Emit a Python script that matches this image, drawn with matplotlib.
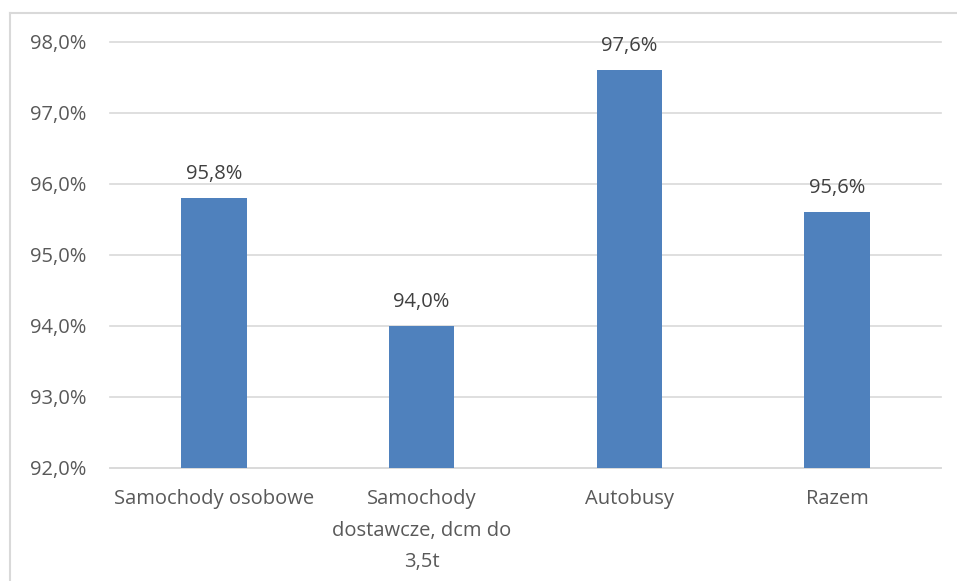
import matplotlib
matplotlib.use("Agg")
import matplotlib.pyplot as plt
from matplotlib.lines import Line2D

categories = ["Samochody osobowe", "Samochody\ndostawcze, dcm do\n3,5t", "Autobusy", "Razem"]
values = [95.8, 94.0, 97.6, 95.6]
yticks = [92, 93, 94, 95, 96, 97, 98]

plt.rcParams['font.family'] = ['Open Sans', 'DejaVu Sans']
txt = '#595959'
fs = 14.5

fig = plt.figure(figsize=(9.57, 5.81), dpi=100)
ax = fig.add_axes([110/957, 1-468/581, (941-110)/957, (468-42)/581])

x = range(len(categories))
bars = ax.bar(x, values, width=0.315, color='#4F81BD', bottom=0, zorder=3)
ax.set_ylim(92, 98)
ax.set_xlim(-0.5, len(categories) - 0.5)
ax.set_yticks(yticks)
ax.set_yticklabels([f"{v:.1f}%".replace('.', ',') for v in yticks], color=txt, fontsize=fs)
ax.set_xticks(list(x))
ax.set_xticklabels(categories, color=txt, fontsize=fs, linespacing=1.78)
ax.tick_params(axis='both', length=0)
ax.tick_params(axis='y', pad=17)
ax.tick_params(axis='x', pad=15)
ax.grid(axis='y', color='#D9D9D9', lw=1.2, zorder=0)
for gl in ax.get_ygridlines():
    gl.set_clip_on(False)
for s in ['top', 'right', 'left']:
    ax.spines[s].set_visible(False)
ax.spines['bottom'].set_color('#D9D9D9')
ax.spines['bottom'].set_linewidth(1.2)

for xi, v in zip(x, values):
    ax.text(xi, v + 0.2, f"{v:.1f}%".replace('.', ','), ha='center', va='bottom', color='#404040', fontsize=fs)

fig.add_artist(Line2D([10/957, 10/957], [0, 1-13/581], transform=fig.transFigure, color='#D9D9D9', lw=1.5))
fig.add_artist(Line2D([10/957, 956/957], [1-13/581, 1-13/581], transform=fig.transFigure, color='#D9D9D9', lw=1.5))

fig.savefig('out.png', dpi=100)
